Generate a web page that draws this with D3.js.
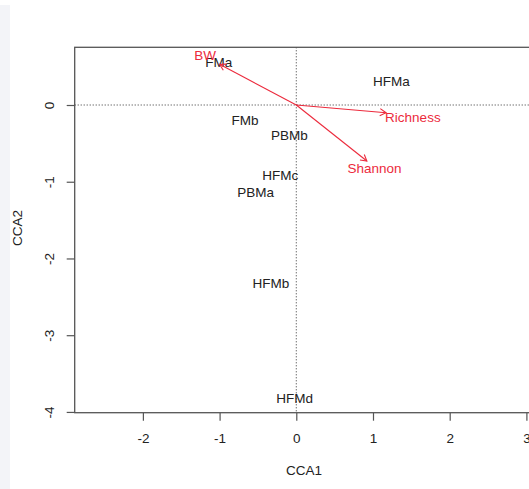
<!DOCTYPE html>
<html>
<head>
<meta charset="utf-8">
<script src="https://cdn.jsdelivr.net/npm/d3@7"></script>
<style>
  body { margin: 0; background: #fff; }
  svg text { font-family: "Liberation Sans", Arial, sans-serif; }
</style>
</head>
<body>
<div id="plot"></div>
<script>
// CCA biplot: site scores (black labels) and environmental arrows (red)
var siteNames = ["FMa", "HFMa", "FMb", "PBMb", "HFMc", "PBMa", "HFMb", "HFMd"];
var siteX = [-1.01, 1.24, -0.67, -0.09, -0.21, -0.53, -0.33, -0.02];
var siteY = [0.56, 0.31, -0.20, -0.40, -0.91, -1.14, -2.32, -3.82];

var envNames = ["BW", "Richness", "Shannon"];
var envX = [-1.00, 1.17, 0.92];
var envY = [0.53, -0.10, -0.73];
// where the arrow labels sit
var envLabelX = [-1.19, 1.52, 1.02];
var envLabelY = [0.65, -0.16, -0.83];

var xTicks = [-2, -1, 0, 1, 2, 3];
var yTicks = [-4, -3, -2, -1, 0];

var svgWidth = 529;
var svgHeight = 489;

var margin = {top: 47.3, left: 74.7};
var width = 458.6;
var height = 365.4;

var red = "#ec2a3c";

var svg = d3.select("#plot")
  .append("svg")
  .attr("width", svgWidth)
  .attr("height", svgHeight);

// faint strip on the left edge of the screenshot
svg.append("rect")
  .attr("x", 0).attr("y", 5)
  .attr("width", 10).attr("height", svgHeight - 5)
  .attr("fill", "#f3f4f8");

var chartGroup = svg.append("g")
  .attr("transform", `translate(${margin.left}, ${margin.top})`);

var xScale = d3.scaleLinear()
  .domain([-2.889, 3.09])
  .range([0, width]);

var yScale = d3.scaleLinear()
  .domain([-4.01, 0.752])
  .range([height, 0]);

// dotted zero lines
chartGroup.append("line")
  .attr("x1", 0).attr("x2", width)
  .attr("y1", yScale(0)).attr("y2", yScale(0))
  .attr("stroke", "#333").attr("stroke-dasharray", "1,2");
chartGroup.append("line")
  .attr("x1", xScale(0)).attr("x2", xScale(0))
  .attr("y1", 0).attr("y2", height)
  .attr("stroke", "#333").attr("stroke-dasharray", "1,2");

// axes (R style: plain hyphen minus)
var fmt = d => String(d);

var xAxis = chartGroup.append("g")
  .attr("transform", `translate(0, ${height})`)
  .call(d3.axisBottom(xScale).tickValues(xTicks).tickSize(8).tickFormat(fmt));
xAxis.select(".domain").remove();
xAxis.selectAll("line").attr("stroke", "#555").attr("stroke-width", 1.2);
xAxis.selectAll("text")
  .attr("y", 21)
  .attr("fill", "#222")
  .style("font-size", "13.5px");

var yAxis = chartGroup.append("g")
  .call(d3.axisLeft(yScale).tickValues(yTicks).tickSize(8).tickFormat(fmt));
yAxis.select(".domain").remove();
yAxis.selectAll("line").attr("stroke", "#555").attr("stroke-width", 1.2);
yAxis.selectAll("text")
  .attr("transform", "rotate(-90)")
  .attr("x", 0)
  .attr("y", -25.7)
  .attr("dy", "0.35em")
  .attr("text-anchor", "middle")
  .attr("fill", "#222")
  .style("font-size", "13.5px");

// box
chartGroup.append("rect")
  .attr("width", width).attr("height", height)
  .attr("fill", "none")
  .attr("stroke", "#555")
  .attr("stroke-width", 1.3);

// site labels
chartGroup.append("g")
  .selectAll("text")
  .data(siteNames)
  .join("text")
  .attr("x", (d, i) => xScale(siteX[i]))
  .attr("y", (d, i) => yScale(siteY[i]))
  .attr("dy", "0.35em")
  .attr("text-anchor", "middle")
  .attr("fill", "#222")
  .style("font-size", "13.5px")
  .text(d => d);

// environmental arrows
var arrows = chartGroup.append("g")
  .attr("stroke", red)
  .attr("stroke-width", 1.1)
  .attr("fill", "none");

envNames.forEach(function(name, i) {
  var x0 = xScale(0), y0 = yScale(0);
  var x1 = xScale(envX[i]), y1 = yScale(envY[i]);
  var ang = Math.atan2(y1 - y0, x1 - x0);
  var len = 7, spread = Math.PI / 6;
  arrows.append("line")
    .attr("x1", x0).attr("y1", y0)
    .attr("x2", x1).attr("y2", y1);
  arrows.append("path")
    .attr("d", `M${x1 - len * Math.cos(ang - spread)},${y1 - len * Math.sin(ang - spread)}` +
      `L${x1},${y1}` +
      `L${x1 - len * Math.cos(ang + spread)},${y1 - len * Math.sin(ang + spread)}`);
});

chartGroup.append("g")
  .selectAll("text")
  .data(envNames)
  .join("text")
  .attr("x", (d, i) => xScale(envLabelX[i]))
  .attr("y", (d, i) => yScale(envLabelY[i]))
  .attr("dy", "0.35em")
  .attr("text-anchor", "middle")
  .attr("fill", red)
  .style("font-size", "13.5px")
  .text(d => d);

// axis titles
chartGroup.append("text")
  .attr("x", width / 2)
  .attr("y", height + 58)
  .attr("dy", "0.35em")
  .attr("text-anchor", "middle")
  .attr("fill", "#222")
  .style("font-size", "13.5px")
  .text("CCA1");

chartGroup.append("text")
  .attr("transform", `translate(${17 - margin.left}, ${height / 2 - 2}) rotate(-90)`)
  .attr("dy", "0.35em")
  .attr("text-anchor", "middle")
  .attr("fill", "#222")
  .style("font-size", "13.5px")
  .text("CCA2");
</script>
</body>
</html>
